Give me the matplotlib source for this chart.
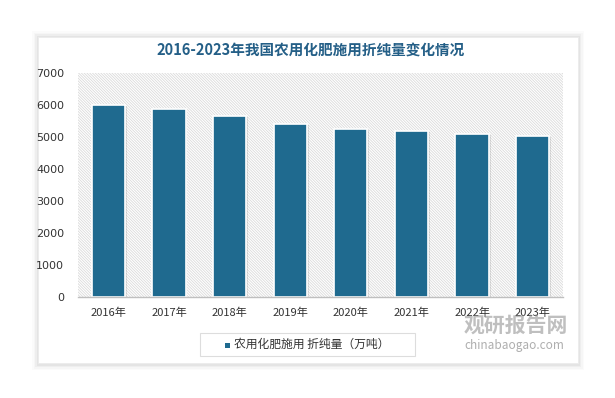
import matplotlib
matplotlib.use("Agg")
import matplotlib.pyplot as plt
from matplotlib.patches import FancyBboxPatch, Rectangle

plt.rcParams['font.family'] = ['Noto Sans CJK SC', 'DejaVu Sans']
plt.rcParams['hatch.linewidth'] = 0.6

years = ["2016年", "2017年", "2018年", "2019年", "2020年", "2021年", "2022年", "2023年"]
values = [5984.4, 5859.4, 5653.4, 5403.6, 5250.7, 5191.3, 5079.2, 5021.7]
yticks = [0, 1000, 2000, 3000, 4000, 5000, 6000, 7000]
title = "2016-2023年我国农用化肥施用折纯量变化情况"
legend_label = "农用化肥施用 折纯量（万吨）"

W, H = 615, 398
fig = plt.figure(figsize=(W / 100, H / 100), dpi=100)
fig.patch.set_facecolor("white")

# card with soft shadow
for i, a in enumerate([0.015, 0.02, 0.03, 0.04]):
    off = (4 - i) * 1.5
    fig.patches.append(FancyBboxPatch(((38 - off) / W, 1 - (364 + off) / H),
                                      (540 + 2 * off) / W, (327 + 2 * off) / H,
                                      boxstyle="square,pad=0", transform=fig.transFigure,
                                      facecolor="#000000", alpha=a, edgecolor="none", zorder=0))
fig.patches.append(FancyBboxPatch((38 / W, 1 - 363 / H), 540 / W, 326 / H,
                                  boxstyle="square,pad=0", transform=fig.transFigure,
                                  facecolor="white", edgecolor="#ececec", lw=0.6, zorder=1))

ax = fig.add_axes([78 / W, 1 - 297 / H, 485 / W, 224 / H])
ax.set_facecolor("none")
ax.set_zorder(2)

ax.add_patch(Rectangle((-0.5, 0), 8, 7000, facecolor="white", edgecolor="#dadada",
                       hatch="\\" * 12, lw=0, zorder=0))

x = list(range(len(years)))
ax.bar([v + 0.02 for v in x], values, width=0.57, color="#000000", alpha=0.10, zorder=1,
       bottom=-30)
ax.bar(x, values, width=0.55, color="#1f6a8f", edgecolor="white", linewidth=1.2, zorder=2)

ax.set_xlim(-0.5, 7.5)
ax.set_ylim(0, 7000)
ax.set_yticks(yticks)
ax.set_yticklabels([str(v) for v in yticks], fontsize=8, color="#333333",
                   family=["DejaVu Sans"])
ax.set_xticks(x)
ax.set_xticklabels(years, fontsize=8, color="#333333")
ax.tick_params(length=0, pad=8)
ax.tick_params(axis="y", pad=10)
for s in ["top", "right", "left"]:
    ax.spines[s].set_visible(False)
ax.spines["bottom"].set_color("#bfbfbf")
ax.spines["bottom"].set_linewidth(1)
ax.spines["bottom"].set_zorder(3)

fig.text(311 / W, 1 - 50 / H, title, ha="center", va="center", fontsize=10.5,
         fontweight="bold", color="#245f87")

# legend box
fig.patches.append(FancyBboxPatch((200 / W, 1 - 356 / H), 215 / W, 23 / H,
                                  boxstyle="square,pad=0", transform=fig.transFigure,
                                  facecolor="white", edgecolor="#dddddd", lw=0.8, zorder=3))
fig.patches.append(Rectangle((225 / W, 1 - 347.5 / H), 5 / W, 5 / H, transform=fig.transFigure,
                             facecolor="#1f6a8f", edgecolor="none", zorder=4))
fig.text(234 / W, 1 - 344.5 / H, legend_label, ha="left", va="center", fontsize=8.5,
         color="#333333", zorder=5)

# watermark
fig.text(516 / W, 1 - 325 / H, "观研报告网", ha="center", va="center", fontsize=15,
         fontweight="bold", color="#8c8c8c", alpha=0.55, zorder=6)
fig.text(514 / W, 1 - 345 / H, "chinabaogao.com", ha="center", va="center", fontsize=8.5,
         color="#8c8c8c", alpha=0.7, zorder=6)

fig.savefig("out.png", dpi=100, facecolor="white")
